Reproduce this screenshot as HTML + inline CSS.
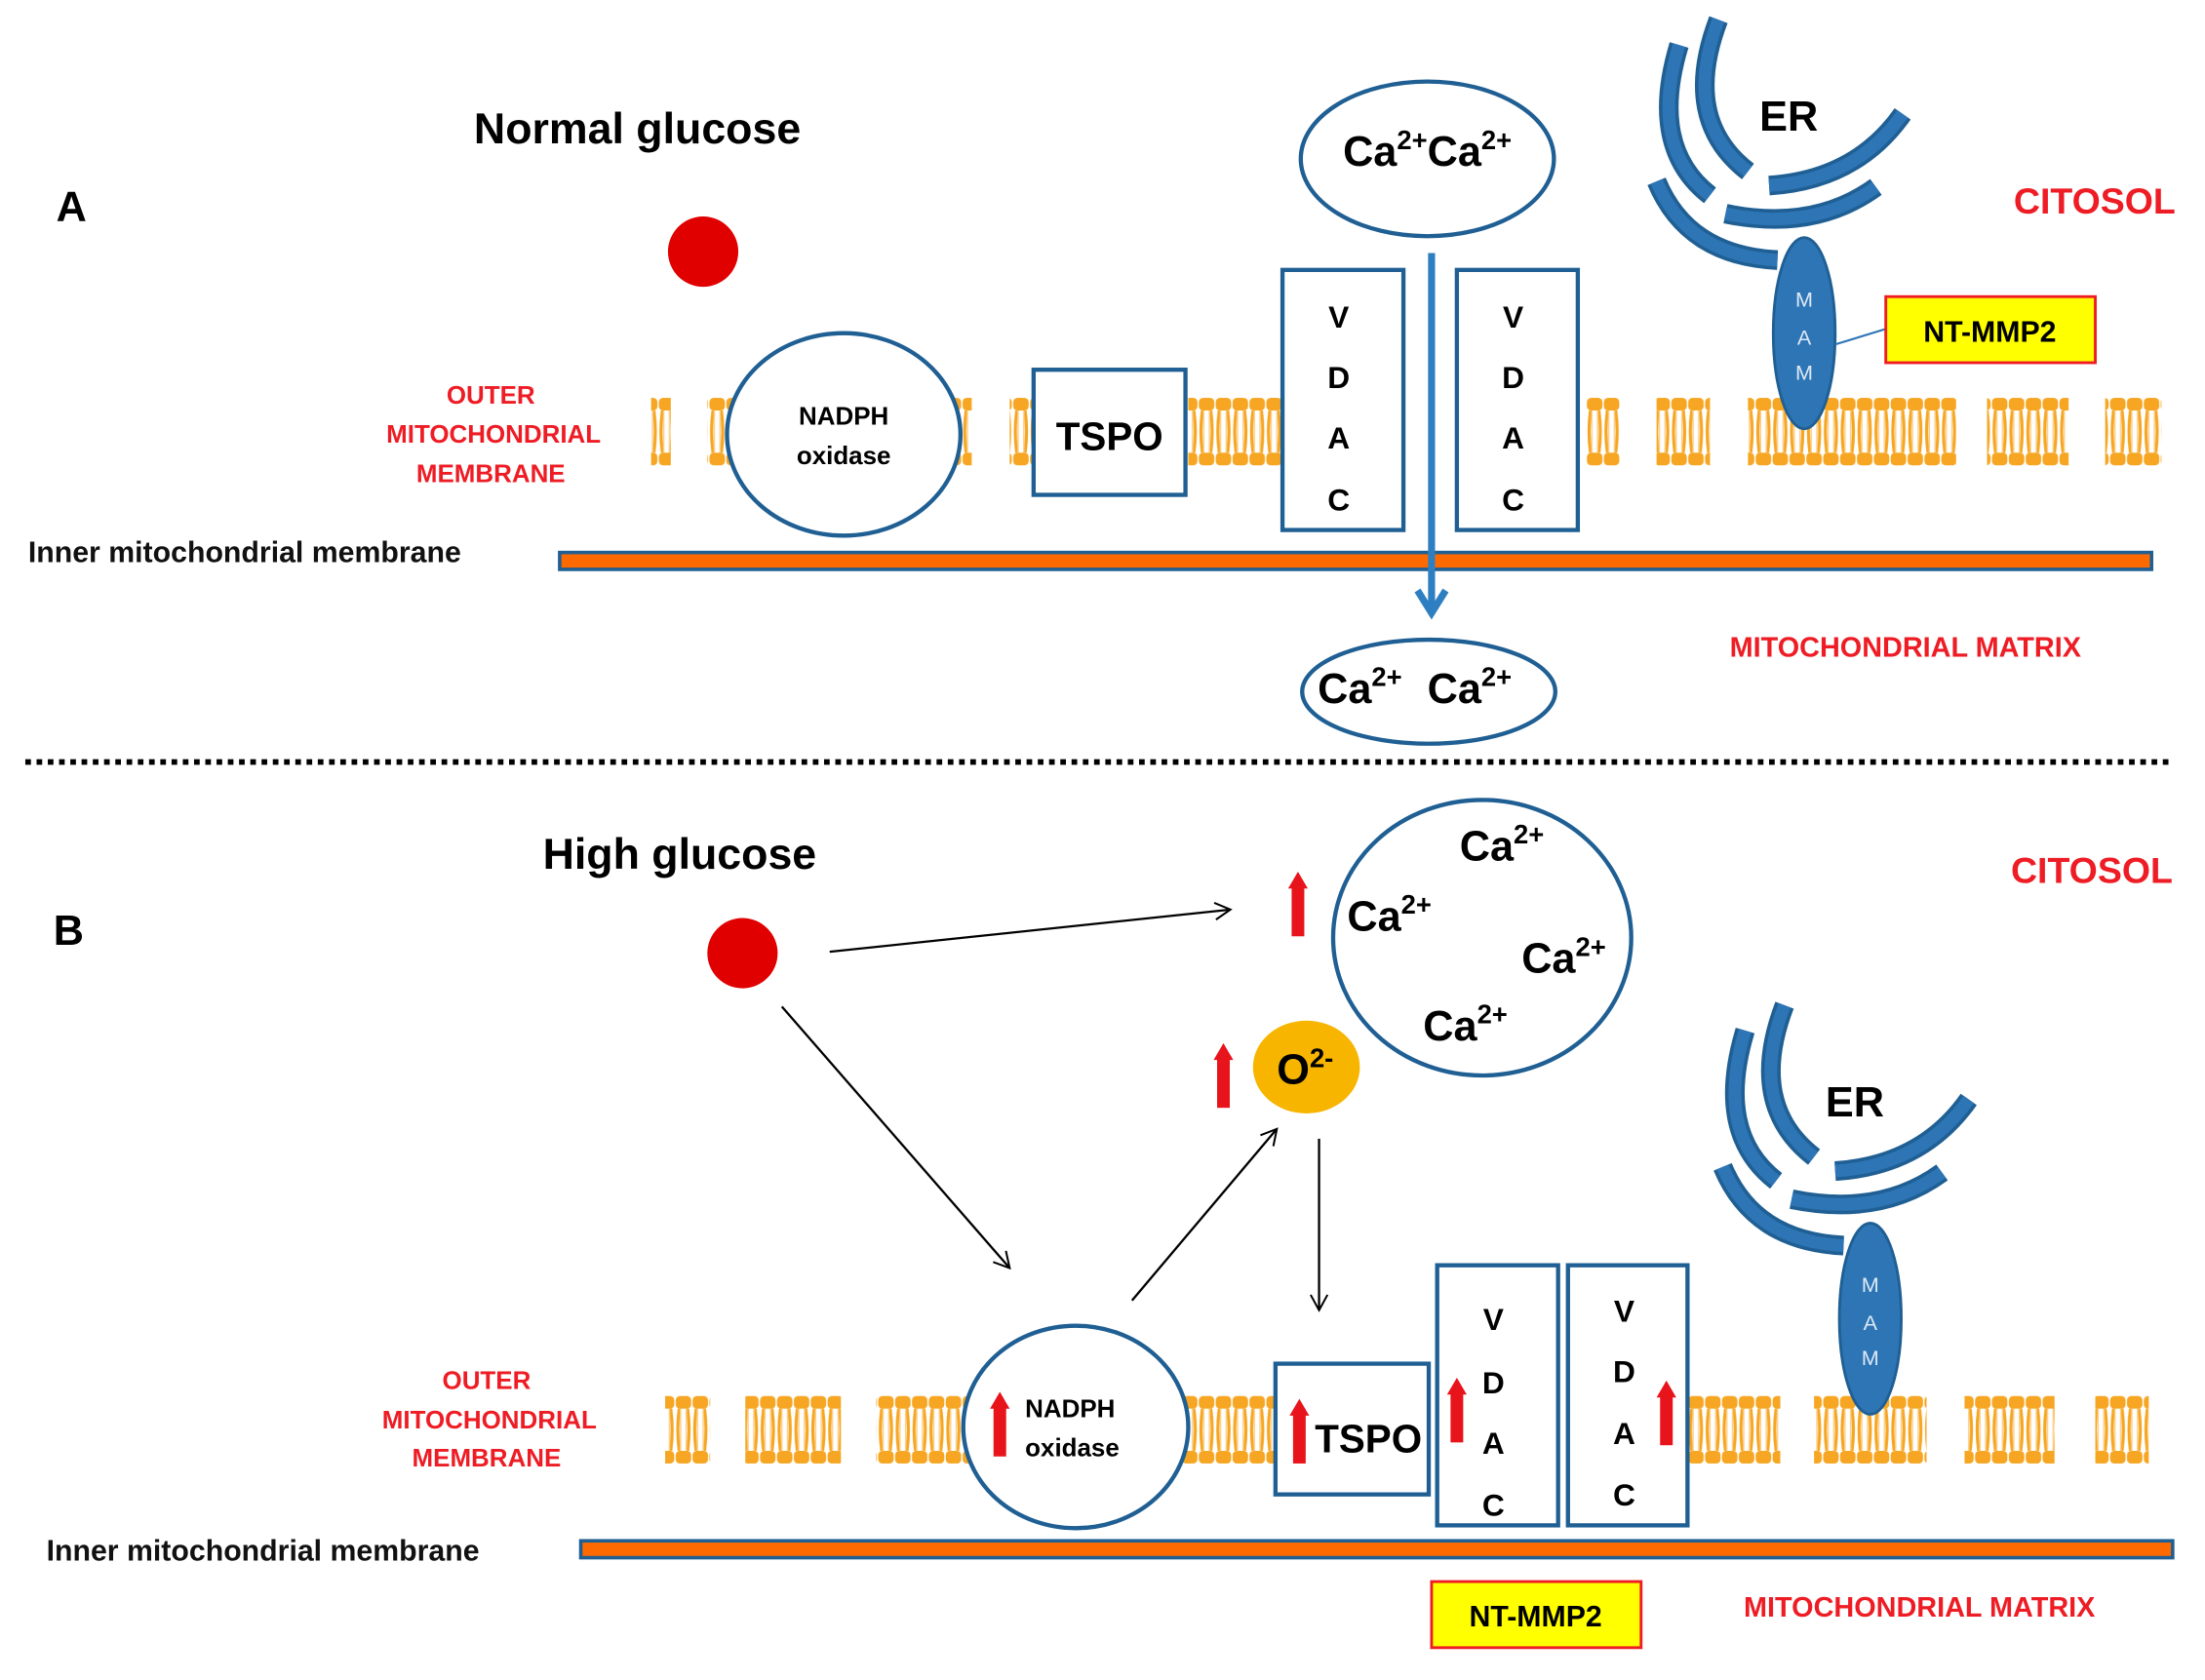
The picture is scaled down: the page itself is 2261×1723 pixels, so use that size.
<!DOCTYPE html>
<html><head><meta charset="utf-8"><style>
html,body{margin:0;padding:0;background:#fff;}
svg{display:block;}
text{font-family:"Liberation Sans",Arial,sans-serif;}
</style></head><body>
<svg width="2261" height="1723" viewBox="0 0 1568 1195" preserveAspectRatio="none" xmlns="http://www.w3.org/2000/svg">
<defs>
<pattern id="lip" x="0" y="0" width="12" height="48" patternUnits="userSpaceOnUse">
<rect x="0.5" y="0" width="11" height="9" rx="3" fill="#f6a623"/>
<rect x="0.5" y="39" width="11" height="9" rx="3" fill="#f6a623"/>
<path d="M3,9 Q1,24 3,39 M9,9 Q11,24 9,39" stroke="#f6a623" stroke-width="2.2" fill="none"/>
<path d="M4,9 L4,39 M8,9 L8,39" stroke="#fbd08a" stroke-width="1" fill="none"/>
</pattern>
<marker id="ah" markerWidth="14" markerHeight="14" refX="12" refY="7" orient="auto" markerUnits="userSpaceOnUse">
<path d="M1,1 L12,7 L1,13" fill="none" stroke="#000" stroke-width="1.4"/>
</marker>
<g id="up"><rect x="-4.5" y="9" width="9" height="37" fill="#e8141b"/><path d="M-7,12 L0,0 L7,12 Z" fill="#e8141b"/></g>
</defs>

<!-- ===== Panel A ===== -->
<text x="337" y="102" font-size="31" font-weight="bold">Normal glucose</text>
<text x="40" y="157" font-size="30" font-weight="bold">A</text>
<text x="1432" y="152" font-size="26" font-weight="bold" fill="#ee1c24">CITOSOL</text>
<circle cx="500" cy="179" r="25" fill="#e00000"/>
<g font-size="18" font-weight="bold" fill="#ee1c24" text-anchor="middle">
<text x="349" y="287">OUTER</text><text x="351" y="315">MITOCHONDRIAL</text><text x="349" y="343">MEMBRANE</text></g>

<g transform="translate(0,283)">
<rect x="463" y="0" width="14" height="48" fill="url(#lip)"/>
<rect x="503" y="0" width="20" height="48" fill="url(#lip)"/>
<rect x="675" y="0" width="16" height="48" fill="url(#lip)"/>
<rect x="718" y="0" width="18" height="48" fill="url(#lip)"/>
<rect x="845" y="0" width="68" height="48" fill="url(#lip)"/>
<rect x="1128" y="0" width="24" height="48" fill="url(#lip)"/>
<rect x="1178" y="0" width="38" height="48" fill="url(#lip)"/>
<rect x="1243" y="0" width="148" height="48" fill="url(#lip)"/>
<rect x="1413" y="0" width="58" height="48" fill="url(#lip)"/>
<rect x="1497" y="0" width="40" height="48" fill="url(#lip)"/>
</g>

<ellipse cx="600" cy="309" rx="83" ry="72" fill="#fff" stroke="#1f5f93" stroke-width="3"/>
<text x="600" y="302" font-size="18" font-weight="bold" text-anchor="middle">NADPH</text>
<text x="600" y="330" font-size="18" font-weight="bold" text-anchor="middle">oxidase</text>
<rect x="735" y="263" width="108" height="89" fill="#fff" stroke="#1f5f93" stroke-width="3"/>
<text x="789" y="320" font-size="28" font-weight="bold" text-anchor="middle">TSPO</text>
<rect x="912" y="192" width="86" height="185" fill="#fff" stroke="#1f5f93" stroke-width="3"/>
<rect x="1036" y="192" width="86" height="185" fill="#fff" stroke="#1f5f93" stroke-width="3"/>
<g font-size="22" font-weight="bold" text-anchor="middle">
<text x="952" y="233">V</text><text x="952" y="276">D</text><text x="952" y="319">A</text><text x="952" y="363">C</text>
<text x="1076" y="233">V</text><text x="1076" y="276">D</text><text x="1076" y="319">A</text><text x="1076" y="363">C</text></g>

<ellipse cx="1015" cy="113" rx="90" ry="55" fill="#fff" stroke="#1f5f93" stroke-width="3"/>
<text x="955" y="118" font-size="30" font-weight="bold">Ca<tspan font-size="19" dy="-12">2+</tspan><tspan dy="12">Ca</tspan><tspan font-size="19" dy="-12">2+</tspan></text>

<rect x="398" y="393" width="1132" height="12" fill="#ff6a00" stroke="#1f5f93" stroke-width="2.5"/>
<path d="M1018,180 L1018,435" stroke="#2e7fc1" stroke-width="5"/>
<path d="M1008,420 L1018,436 L1028,420" stroke="#2e7fc1" stroke-width="5" fill="none"/>
<text x="20" y="400" font-size="21" font-weight="bold" fill="#111">Inner mitochondrial  membrane</text>
<text x="1230" y="467" font-size="20" font-weight="bold" fill="#ee1c24">MITOCHONDRIAL MATRIX</text>
<ellipse cx="1016" cy="492" rx="90" ry="37" fill="#fff" stroke="#1f5f93" stroke-width="3"/>
<text x="937" y="500" font-size="30" font-weight="bold">Ca<tspan font-size="19" dy="-12">2+</tspan><tspan dx="18" dy="12">Ca</tspan><tspan font-size="19" dy="-12">2+</tspan></text>

<g id="er">
<g fill="none" stroke-linecap="butt">
<path d="M1222,14 Q1195,85 1243,122" stroke="#1f5f93" stroke-width="14"/>
<path d="M1194,32 Q1172,105 1216,139" stroke="#1f5f93" stroke-width="14"/>
<path d="M1178,129 Q1200,182 1264,185" stroke="#1f5f93" stroke-width="14"/>
<path d="M1258,132 Q1320,128 1353,81" stroke="#1f5f93" stroke-width="14"/>
<path d="M1227,152 Q1290,165 1334,133" stroke="#1f5f93" stroke-width="14"/>
<path d="M1222,14 Q1195,85 1243,122" stroke="#2e75b6" stroke-width="9"/>
<path d="M1194,32 Q1172,105 1216,139" stroke="#2e75b6" stroke-width="9"/>
<path d="M1178,129 Q1200,182 1264,185" stroke="#2e75b6" stroke-width="9"/>
<path d="M1258,132 Q1320,128 1353,81" stroke="#2e75b6" stroke-width="9"/>
<path d="M1227,152 Q1290,165 1334,133" stroke="#2e75b6" stroke-width="9"/>
</g>
<text x="1272" y="93" font-size="30" font-weight="bold" text-anchor="middle">ER</text>
<ellipse cx="1283" cy="237" rx="22" ry="68" fill="#2e75b6" stroke="#1f5f93" stroke-width="2"/>
<g font-size="15" fill="#dde9f5" text-anchor="middle"><text x="1283" y="218">M</text><text x="1283" y="245">A</text><text x="1283" y="270">M</text></g>
</g>
<line x1="1305" y1="245" x2="1341" y2="234" stroke="#2e75b6" stroke-width="1.5"/>
<rect x="1341" y="211" width="149" height="47" fill="#ffff00" stroke="#ee1c24" stroke-width="2"/>
<text x="1415" y="243" font-size="21" font-weight="bold" text-anchor="middle">NT-MMP2</text>

<line x1="18" y1="542" x2="1545" y2="542" stroke="#000" stroke-width="4" stroke-dasharray="4 4"/>

<!-- ===== Panel B ===== -->
<text x="386" y="618" font-size="31" font-weight="bold">High glucose</text>
<text x="38" y="672" font-size="30" font-weight="bold">B</text>
<text x="1430" y="628" font-size="26" font-weight="bold" fill="#ee1c24">CITOSOL</text>
<circle cx="528" cy="678" r="25" fill="#e00000"/>
<g font-size="18" font-weight="bold" fill="#ee1c24" text-anchor="middle">
<text x="346" y="988">OUTER</text><text x="348" y="1016">MITOCHONDRIAL</text><text x="346" y="1043">MEMBRANE</text></g>

<g transform="translate(0,993)">
<rect x="473" y="0" width="32" height="48" fill="url(#lip)"/>
<rect x="530" y="0" width="68" height="48" fill="url(#lip)"/>
<rect x="623" y="0" width="68" height="48" fill="url(#lip)"/>
<rect x="840" y="0" width="70" height="48" fill="url(#lip)"/>
<rect x="1200" y="0" width="66" height="48" fill="url(#lip)"/>
<rect x="1290" y="0" width="80" height="48" fill="url(#lip)"/>
<rect x="1397" y="0" width="64" height="48" fill="url(#lip)"/>
<rect x="1490" y="0" width="38" height="48" fill="url(#lip)"/>
</g>

<ellipse cx="765" cy="1015" rx="80" ry="72" fill="#fff" stroke="#1f5f93" stroke-width="3"/>
<text x="729" y="1008" font-size="18" font-weight="bold">NADPH</text>
<text x="729" y="1036" font-size="18" font-weight="bold">oxidase</text>
<use href="#up" x="711" y="990"/>
<rect x="907" y="970" width="109" height="93" fill="#fff" stroke="#1f5f93" stroke-width="3"/>
<text x="935" y="1033" font-size="28" font-weight="bold">TSPO</text>
<use href="#up" x="924" y="995"/>
<rect x="1022" y="900" width="86" height="185" fill="#fff" stroke="#1f5f93" stroke-width="3"/>
<rect x="1115" y="900" width="85" height="185" fill="#fff" stroke="#1f5f93" stroke-width="3"/>
<g font-size="22" font-weight="bold" text-anchor="middle">
<text x="1062" y="946">V</text><text x="1062" y="991">D</text><text x="1062" y="1034">A</text><text x="1062" y="1078">C</text>
<text x="1155" y="940">V</text><text x="1155" y="983">D</text><text x="1155" y="1027">A</text><text x="1155" y="1071">C</text></g>
<use href="#up" x="1036" y="980"/>
<use href="#up" x="1185" y="982"/>

<rect x="413" y="1096" width="1132" height="12" fill="#ff6a00" stroke="#1f5f93" stroke-width="2.5"/>
<text x="33" y="1110" font-size="21" font-weight="bold" fill="#111">Inner mitochondrial  membrane</text>
<rect x="1018" y="1125" width="149" height="47" fill="#ffff00" stroke="#ee1c24" stroke-width="2"/>
<text x="1092" y="1157" font-size="21" font-weight="bold" text-anchor="middle">NT-MMP2</text>
<text x="1240" y="1150" font-size="20" font-weight="bold" fill="#ee1c24">MITOCHONDRIAL MATRIX</text>

<ellipse cx="1054" cy="667" rx="106" ry="98" fill="#fff" stroke="#1f5f93" stroke-width="3"/>
<g font-size="30" font-weight="bold">
<text x="1038" y="612">Ca<tspan font-size="19" dy="-12">2+</tspan></text>
<text x="958" y="662">Ca<tspan font-size="19" dy="-12">2+</tspan></text>
<text x="1082" y="692">Ca<tspan font-size="19" dy="-12">2+</tspan></text>
<text x="1012" y="740">Ca<tspan font-size="19" dy="-12">2+</tspan></text>
</g>
<use href="#up" x="923" y="620"/>
<ellipse cx="929" cy="759" rx="38" ry="33" fill="#f7b500"/>
<text x="908" y="771" font-size="30" font-weight="bold">O<tspan font-size="19" dy="-12">2-</tspan></text>
<use href="#up" x="870" y="742"/>

<g stroke="#000" stroke-width="1.6" fill="none" marker-end="url(#ah)">
<line x1="590" y1="677" x2="875" y2="647"/>
<line x1="556" y1="716" x2="718" y2="902"/>
<line x1="805" y1="925" x2="908" y2="803"/>
<line x1="938" y1="810" x2="938" y2="932"/>
</g>

<use href="#er" x="47" y="701"/>
</svg>
</body></html>
